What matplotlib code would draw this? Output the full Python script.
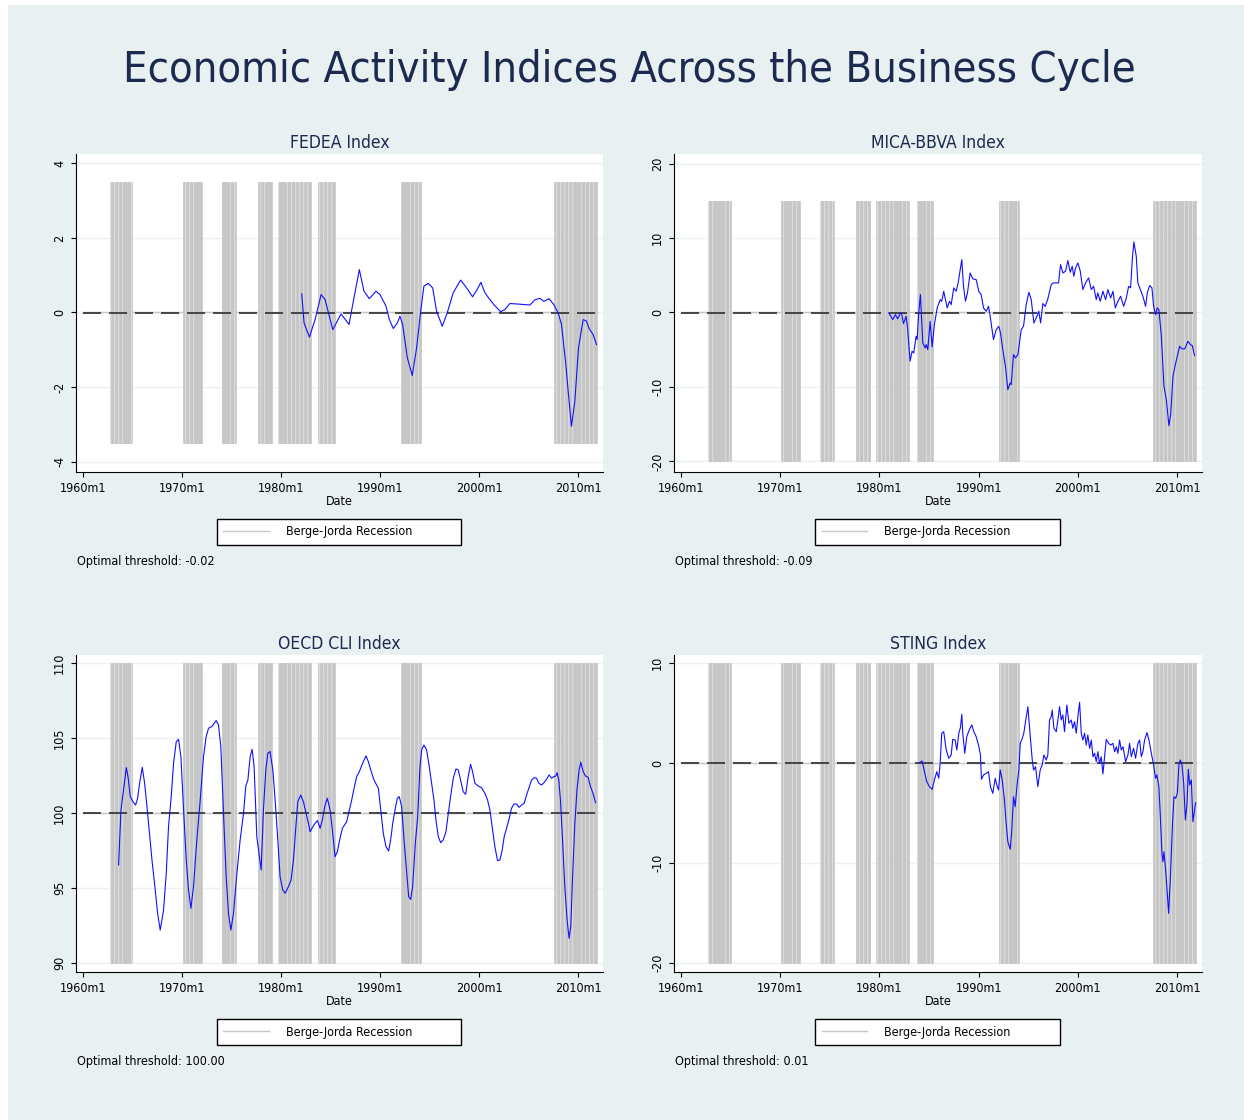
import matplotlib
matplotlib.use("Agg")
import matplotlib.pyplot as plt
from matplotlib import font_manager
from matplotlib.lines import Line2D
from matplotlib.patches import Rectangle
import numpy as np

# narrow sans if there is one, else plain Liberation Sans at a smaller size
_fonts = font_manager.fontManager.ttflist
_names = set(f.name for f in _fonts)
stretch = 'normal'
if 'Liberation Sans Narrow' in _names:
    family = 'Liberation Sans Narrow'
    shrink = 1.0
elif any(f.name == 'DejaVu Sans' and f.stretch == 'condensed' for f in _fonts):
    family = 'DejaVu Sans'
    stretch = 'condensed'
    shrink = 0.9
else:
    family = 'Liberation Sans'
    shrink = 0.88
plt.rcParams['font.family'] = [family, 'DejaVu Sans']
plt.rcParams['font.stretch'] = stretch

# ---- data (decimal years, index values) ----
fedea_t = [1982.10, 1982.33, 1982.87, 1983.44, 1984.05, 1984.45, 1985.23, 1986.06, 1986.87, 1987.24,
           1987.91, 1988.38, 1988.92, 1989.59, 1990.00, 1990.60, 1990.94, 1991.34, 1991.74, 1992.01,
           1992.28, 1992.75, 1993.25, 1993.69, 1994.10, 1994.43, 1994.87, 1995.31, 1995.71, 1996.28,
           1996.78, 1997.39, 1998.13, 1998.74, 1999.34, 1999.81, 2000.18, 2000.58, 2000.99, 2001.49,
           2002.17, 2002.60, 2003.10, 2003.78, 2005.12, 2005.62, 2006.13, 2006.53, 2007.07, 2007.54,
           2007.98, 2008.31, 2008.75, 2009.08, 2009.32, 2009.66, 2010.03, 2010.50, 2010.83, 2011.10,
           2011.50, 2011.84]
fedea_v = [0.50, -0.28, -0.66, -0.19, 0.48, 0.35, -0.46, -0.04, -0.32, 0.21,
           1.15, 0.57, 0.37, 0.57, 0.48, 0.17, -0.19, -0.43, -0.28, -0.10,
           -0.32, -1.21, -1.69, -0.95, 0.03, 0.71, 0.78, 0.66, 0.03, -0.37,
           -0.01, 0.53, 0.87, 0.66, 0.42, 0.62, 0.81, 0.53, 0.38, 0.21,
           0.02, 0.08, 0.24, 0.23, 0.20, 0.34, 0.38, 0.30, 0.37, 0.21,
           -0.01, -0.32, -1.39, -2.38, -3.05, -2.38, -0.95, -0.19, -0.23, -0.43,
           -0.59, -0.86]

mica_t = [1980.94, 1981.34, 1981.61, 1981.84, 1982.08, 1982.22, 1982.42, 1982.69, 1982.82, 1983.09,
          1983.29, 1983.46, 1983.70, 1983.80, 1983.96, 1984.13, 1984.37, 1984.61, 1984.71, 1984.87,
          1985.11, 1985.31, 1985.54, 1985.82, 1986.12, 1986.28, 1986.48, 1986.83, 1987.06, 1987.23,
          1987.49, 1987.73, 1987.93, 1988.30, 1988.47, 1988.67, 1988.87, 1989.14, 1989.41, 1989.75,
          1990.01, 1990.25, 1990.49, 1990.76, 1990.99, 1991.16, 1991.49, 1991.77, 1992.03, 1992.20,
          1992.43, 1992.70, 1992.94, 1993.18, 1993.28, 1993.51, 1993.71, 1993.95, 1994.29, 1994.52,
          1994.79, 1995.06, 1995.30, 1995.56, 1995.80, 1996.06, 1996.24, 1996.47, 1996.71, 1996.97,
          1997.31, 1997.55, 1997.82, 1998.05, 1998.25, 1998.49, 1998.76, 1998.99, 1999.23, 1999.43,
          1999.59, 1999.76, 2000.00, 2000.24, 2000.50, 2000.77, 2001.08, 2001.35, 2001.58, 2001.85,
          2002.01, 2002.25, 2002.52, 2002.79, 2003.02, 2003.30, 2003.53, 2003.77, 2004.03, 2004.30,
          2004.61, 2004.88, 2005.11, 2005.31, 2005.48, 2005.64, 2005.88, 2006.04, 2006.29, 2006.55,
          2006.82, 2006.99, 2007.23, 2007.46, 2007.63, 2007.83, 2008.00, 2008.16, 2008.41, 2008.67,
          2008.91, 2009.17, 2009.35, 2009.58, 2009.82, 2010.02, 2010.25, 2010.49, 2010.76, 2011.09,
          2011.33, 2011.53, 2011.76]
mica_v = [-0.05, -0.95, -0.28, -0.86, -0.15, -0.05, -1.49, -0.51, -1.85, -6.55,
          -5.21, -5.43, -3.19, -3.64, -0.05, 2.41, -4.09, -4.76, -4.31, -4.99,
          -1.18, -4.62, -1.63, 0.62, 1.73, 1.51, 2.85, 0.62, 1.51, 1.06,
          3.31, 2.85, 3.98, 7.11, 3.52, 1.51, 2.63, 5.32, 4.52, 4.42,
          2.85, 2.41, 0.62, 0.16, 0.83, -0.51, -3.64, -2.30, -1.85, -2.74,
          -4.99, -7.23, -10.36, -9.46, -9.69, -5.66, -6.10, -5.66, -2.30, -1.85,
          1.06, 2.72, 1.73, -1.40, -0.73, 0.16, -1.40, 1.20, 0.83, 1.83,
          3.75, 3.98, 3.98, 3.98, 6.44, 5.32, 5.54, 6.98, 5.40, 6.21,
          4.87, 5.99, 6.67, 5.54, 3.08, 3.98, 4.65, 3.08, 3.52, 1.73,
          2.63, 1.51, 2.85, 1.73, 3.08, 1.96, 2.85, 0.62, 1.51, 2.18,
          0.83, 1.96, 3.52, 3.31, 7.11, 9.49, 7.55, 3.98, 3.08, 2.18,
          0.83, 2.63, 3.62, 3.31, 0.83, -0.28, 0.62, 0.39, -3.19, -9.91,
          -11.7, -15.2, -13.7, -8.57, -7.00, -5.88, -4.54, -4.89, -4.89, -3.87,
          -4.31, -4.45, -5.79]

oecd_t = [1963.61, 1963.85, 1964.02, 1964.12, 1964.39, 1964.56, 1964.79, 1965.06, 1965.33, 1965.53,
          1965.73, 1966.00, 1966.24, 1966.54, 1966.98, 1967.31, 1967.55, 1967.81, 1968.15, 1968.42,
          1968.65, 1968.92, 1969.16, 1969.43, 1969.66, 1969.90, 1970.17, 1970.44, 1970.67, 1970.91,
          1971.17, 1971.51, 1971.85, 1972.18, 1972.45, 1972.69, 1973.02, 1973.26, 1973.46, 1973.69,
          1973.93, 1974.20, 1974.47, 1974.70, 1974.94, 1975.21, 1975.55, 1975.88, 1976.22, 1976.45,
          1976.66, 1976.89, 1977.09, 1977.29, 1977.56, 1977.83, 1978.00, 1978.23, 1978.47, 1978.67,
          1978.90, 1979.18, 1979.41, 1979.68, 1979.91, 1980.18, 1980.42, 1980.75, 1981.02, 1981.26,
          1981.50, 1981.70, 1982.00, 1982.27, 1982.53, 1982.77, 1982.94, 1983.21, 1983.44, 1983.68,
          1983.95, 1984.18, 1984.45, 1984.68, 1984.96, 1985.19, 1985.46, 1985.69, 1985.96, 1986.20,
          1986.63, 1986.90, 1987.14, 1987.38, 1987.64, 1987.91, 1988.31, 1988.58, 1988.82, 1989.06,
          1989.39, 1989.83, 1990.07, 1990.33, 1990.60, 1990.87, 1991.07, 1991.28, 1991.51, 1991.74,
          1991.94, 1992.18, 1992.42, 1992.69, 1992.89, 1993.09, 1993.29, 1993.56, 1993.80, 1994.03,
          1994.20, 1994.43, 1994.70, 1994.97, 1995.21, 1995.44, 1995.64, 1995.88, 1996.12, 1996.38,
          1996.65, 1996.89, 1997.12, 1997.39, 1997.66, 1997.89, 1998.13, 1998.39, 1998.64, 1998.90,
          1999.14, 1999.34, 1999.58, 1999.91, 2000.25, 2000.58, 2000.85, 2001.09, 2001.32, 2001.59,
          2001.86, 2002.10, 2002.33, 2002.53, 2002.77, 2003.04, 2003.27, 2003.51, 2003.78, 2004.04,
          2004.28, 2004.55, 2004.79, 2005.02, 2005.29, 2005.56, 2005.80, 2006.03, 2006.30, 2006.56,
          2006.80, 2007.07, 2007.31, 2007.54, 2007.74, 2007.87, 2008.04, 2008.21, 2008.42, 2008.65,
          2008.88, 2009.08, 2009.25, 2009.42, 2009.66, 2009.89, 2010.09, 2010.26, 2010.50, 2010.74,
          2011.00, 2011.24, 2011.50, 2011.74]
oecd_v = [96.53, 100.20, 101.09, 101.65, 103.03, 102.43, 101.09, 100.75, 100.53, 100.98,
          101.98, 103.05, 101.98, 99.98, 96.86, 94.86, 93.30, 92.18, 93.52, 95.97,
          99.08, 101.09, 103.32, 104.76, 104.92, 103.76, 100.20, 96.86, 94.86, 93.63,
          95.08, 98.20, 100.87, 103.76, 105.10, 105.66, 105.77, 105.99, 106.17, 105.88,
          104.43, 99.98, 95.74, 93.30, 92.18, 93.30, 95.97, 98.20, 99.98, 101.80,
          102.20, 103.76, 104.25, 103.09, 98.42, 97.08, 96.19, 100.20, 102.87, 103.99,
          104.10, 102.87, 100.87, 98.20, 95.74, 94.86, 94.64, 95.08, 95.52, 96.86,
          99.08, 100.75, 101.20, 100.75, 99.98, 99.31, 98.75, 99.08, 99.31, 99.49,
          98.98, 99.53, 100.53, 100.98, 100.20, 98.86, 97.08, 97.42, 98.31, 98.98,
          99.42, 100.20, 100.87, 101.65, 102.43, 102.76, 103.43, 103.81, 103.43, 102.87,
          102.20, 101.65, 100.20, 98.64, 97.75, 97.46, 98.20, 99.31, 100.20, 100.98,
          101.09, 100.42, 98.20, 95.97, 94.41, 94.23, 95.08, 97.98, 99.75, 103.09,
          104.21, 104.54, 104.21, 103.09, 101.98, 100.87, 99.53, 98.42, 98.02, 98.20,
          98.75, 99.98, 101.09, 102.32, 102.94, 102.87, 102.20, 101.42, 101.25, 102.43,
          103.25, 102.76, 101.98, 101.80, 101.69, 101.31, 100.87, 100.20, 99.08, 97.75,
          96.82, 96.86, 97.53, 98.42, 98.98, 99.65, 100.31, 100.60, 100.60, 100.38,
          100.53, 100.65, 101.20, 101.65, 102.20, 102.36, 102.32, 101.98, 101.87, 102.03,
          102.25, 102.54, 102.32, 102.43, 102.47, 102.69, 102.20, 100.87, 98.20, 95.08,
          92.85, 91.63, 92.40, 95.52, 99.31, 101.65, 102.87, 103.39, 102.76, 102.47,
          102.38, 101.76, 101.31, 100.69]

sting_t = [1984.03, 1984.30, 1984.54, 1984.77, 1985.04, 1985.31, 1985.54, 1985.78, 1985.98, 1986.12,
           1986.28, 1986.48, 1986.73, 1986.99, 1987.23, 1987.39, 1987.63, 1987.80, 1988.00, 1988.17,
           1988.30, 1988.40, 1988.60, 1988.80, 1989.08, 1989.31, 1989.51, 1989.75, 1989.98, 1990.18,
           1990.28, 1990.49, 1990.76, 1990.99, 1991.19, 1991.42, 1991.67, 1991.83, 1992.00, 1992.17,
           1992.37, 1992.60, 1992.77, 1992.94, 1993.18, 1993.34, 1993.51, 1993.68, 1993.85, 1994.05,
           1994.19, 1994.39, 1994.55, 1994.72, 1994.96, 1995.20, 1995.40, 1995.53, 1995.73, 1995.96,
           1996.20, 1996.40, 1996.57, 1996.81, 1996.97, 1997.14, 1997.31, 1997.41, 1997.58, 1997.82,
           1998.05, 1998.15, 1998.32, 1998.48, 1998.65, 1998.89, 1999.09, 1999.33, 1999.49, 1999.66,
           1999.83, 2000.00, 2000.17, 2000.34, 2000.50, 2000.67, 2000.84, 2001.00, 2001.18, 2001.35,
           2001.51, 2001.68, 2001.85, 2002.01, 2002.18, 2002.35, 2002.52, 2002.69, 2002.86, 2003.09,
           2003.30, 2003.53, 2003.70, 2003.87, 2004.03, 2004.20, 2004.37, 2004.54, 2004.81, 2005.04,
           2005.21, 2005.38, 2005.61, 2005.81, 2006.05, 2006.22, 2006.39, 2006.55, 2006.72, 2006.96,
           2007.16, 2007.40, 2007.63, 2007.83, 2007.96, 2008.16, 2008.30, 2008.47, 2008.57, 2008.67,
           2008.84, 2009.01, 2009.14, 2009.31, 2009.52, 2009.68, 2009.85, 2010.02, 2010.18, 2010.32,
           2010.49, 2010.66, 2010.83, 2011.00, 2011.13, 2011.26, 2011.43, 2011.59, 2011.76, 2011.86]
sting_v = [0.04, 0.21, -0.86, -1.86, -2.36, -2.63, -1.69, -0.86, -1.52, -0.02,
           2.99, 3.15, 1.31, 0.48, 0.81, 2.38, 2.31, 1.31, 2.99, 3.59,
           4.89, 2.99, 0.98, 2.65, 3.39, 3.82, 3.15, 2.65, 1.81, 0.81,
           -1.62, -1.19, -1.02, -0.86, -2.36, -3.03, -1.52, -2.19, -2.70, -0.69,
           -1.69, -3.70, -6.03, -7.88, -8.64, -6.70, -3.37, -4.37, -2.36, -0.69,
           1.98, 2.48, 2.99, 4.15, 5.65, 2.65, 0.31, -0.69, -0.36, -2.36,
           -0.69, -0.19, 0.81, 0.31, 0.81, 4.32, 4.65, 5.32, 3.49, 3.15,
           4.82, 5.65, 4.32, 4.82, 3.15, 5.82, 3.99, 4.32, 3.49, 4.15,
           2.99, 4.65, 6.09, 2.99, 2.31, 2.99, 1.81, 2.82, 1.48, 2.31,
           0.64, 0.98, 0.14, 1.14, -0.02, 0.64, -1.09, 0.64, 2.38, 1.98,
           1.81, 1.98, 1.14, 1.64, 0.98, 2.31, 1.31, 1.64, 0.14, 0.81,
           1.98, 0.64, 1.48, 0.48, 1.98, 2.31, 0.64, 1.14, 2.31, 3.05,
           2.31, 0.98, -0.19, -1.52, -1.19, -2.36, -5.20, -9.04, -9.88, -8.88,
           -10.71, -13.05, -15.05, -11.71, -6.37, -3.37, -3.53, -3.03, -0.19, 0.31,
           -0.19, -2.02, -5.70, -4.03, -0.62, -2.19, -1.69, -5.87, -4.70, -3.97]

# Berge-Jorda recession months (start year, start month, end year, end month)
rec_start = [(1962, 10), (1970, 2), (1974, 1), (1977, 9), (1979, 9), (1983, 10), (1992, 2), (2007, 8)]
rec_end = [(1964, 12), (1971, 12), (1975, 5), (1979, 1), (1982, 12), (1985, 5), (1994, 1), (2011, 11)]

titles = ["FEDEA Index", "MICA-BBVA Index", "OECD CLI Index", "STING Index"]
thresholds = [-0.02, -0.09, 100.00, 0.01]
threshold_txt = ["-0.02", "-0.09", "100.00", "0.01"]
bar_lo = [-3.5, -20, 90, -20]
bar_hi = [3.5, 15, 110, 10]
bar_base = [0, 0, 100, 0]
yticks = [[-4, -2, 0, 2, 4], [-20, -10, 0, 10, 20], [90, 95, 100, 105, 110], [-20, -10, 0, 10]]
ylims = [(-4.27, 4.25), (-21.4, 21.3), (89.38, 110.55), (-20.93, 10.83)]
xticks = [1960, 1970, 1980, 1990, 2000, 2010]
series_t = [fedea_t, mica_t, oecd_t, sting_t]
series_v = [fedea_v, mica_v, oecd_v, sting_v]

bg = '#e8f0f2'
navy = '#1c2a50'

fig = plt.figure(figsize=(12.44, 11.20), dpi=100)
fig.patch.set_facecolor('white')
fig.patches.append(Rectangle((8 / 1244, 0), 1 - 8 / 1244, 1 - 5 / 1120, transform=fig.transFigure,
                             facecolor=bg, edgecolor='none', zorder=-10))

title = fig.text(0.5056, 1 - 82 / 1120, "Economic Activity Indices Across the Business Cycle",
                 ha='center', va='baseline', fontsize=39, color=navy)
# fit the title to the width it has in the picture (about 1014 px)
fig.canvas.draw()
w = title.get_window_extent().width
if w > 1014:
    title.set_fontsize(39 * 1014.0 / w)

positions = [(0.0610, 0.5788, 0.4237, 0.2837), (0.5418, 0.5788, 0.4244, 0.2837),
             (0.0610, 0.1321, 0.4237, 0.2831), (0.5418, 0.1321, 0.4244, 0.2831)]

# monthly recession bars
rec_months = []
for (sy, sm), (ey, em) in zip(rec_start, rec_end):
    n = (ey - sy) * 12 + (em - sm) + 1
    for k in range(n):
        rec_months.append(sy + (sm - 1 + k) / 12.0)
rec_months = np.array(rec_months)
edge = ['#e4e4e4' if i % 5 == 0 else '#c6c6c6' for i in range(len(rec_months))]

fs_tick = 10 * shrink
fs_sub = 14 * shrink

for i in range(4):
    ax = fig.add_axes(positions[i])
    ax.set_facecolor('white')
    ax.set_xlim(1959.3, 2012.5)
    ax.set_ylim(*ylims[i])

    ax.bar(rec_months, bar_hi[i] - bar_lo[i], width=1 / 12.0, bottom=bar_lo[i], align='edge',
           color='#c6c6c6', edgecolor=edge, linewidth=0.5, zorder=2)
    # zero-height bars outside recessions show as a thin line at the base
    ax.plot([1960.0, 2011.92], [bar_base[i], bar_base[i]], color='#c6c6c6', lw=1.0, zorder=1.5)
    ax.plot([1960.0, 2011.92], [thresholds[i], thresholds[i]], color='#3a3a3a', lw=1.3,
            dashes=(10, 4.4), zorder=3)
    ax.plot(series_t[i], series_v[i], color='#1010ff', lw=0.8, zorder=4)

    for yv in yticks[i]:
        ax.axhline(yv, color='#eaf2f3', lw=1.0, zorder=1)

    ax.set_yticks(yticks[i])
    ax.set_yticklabels([str(v) for v in yticks[i]], rotation=90, va='center')
    ax.set_xticks(xticks)
    ax.set_xticklabels(["%dm1" % v for v in xticks])
    ax.tick_params(axis='both', direction='out', length=3.6, width=0.8, pad=3.5,
                   labelsize=fs_tick, color='black')
    for s in ['top', 'right']:
        ax.spines[s].set_visible(False)
    for s in ['left', 'bottom']:
        ax.spines[s].set_linewidth(0.8)
        ax.spines[s].set_color('black')

    ax.set_title(titles[i], fontsize=fs_sub, color=navy, pad=4)
    ax.set_xlabel("Date", fontsize=fs_tick, labelpad=0)

    proxy = Line2D([], [], color='#c6c6c6', lw=1.0)
    ax.legend([proxy], ["Berge-Jorda Recession"], loc='upper left', mode='expand',
              bbox_to_anchor=(0.2677, -0.234, 0.463, 0.085), borderaxespad=0,
              frameon=True, fancybox=False, edgecolor='black', facecolor='white',
              framealpha=1, fontsize=fs_tick, handlelength=3.3 / shrink, handletextpad=1.2 / shrink,
              borderpad=0.5)
    ax.text(0.002, -0.281, "Optimal threshold: " + threshold_txt[i], transform=ax.transAxes,
            ha='left', va='center', fontsize=fs_tick)

fig.savefig("out.png", dpi=100, facecolor=fig.get_facecolor())
